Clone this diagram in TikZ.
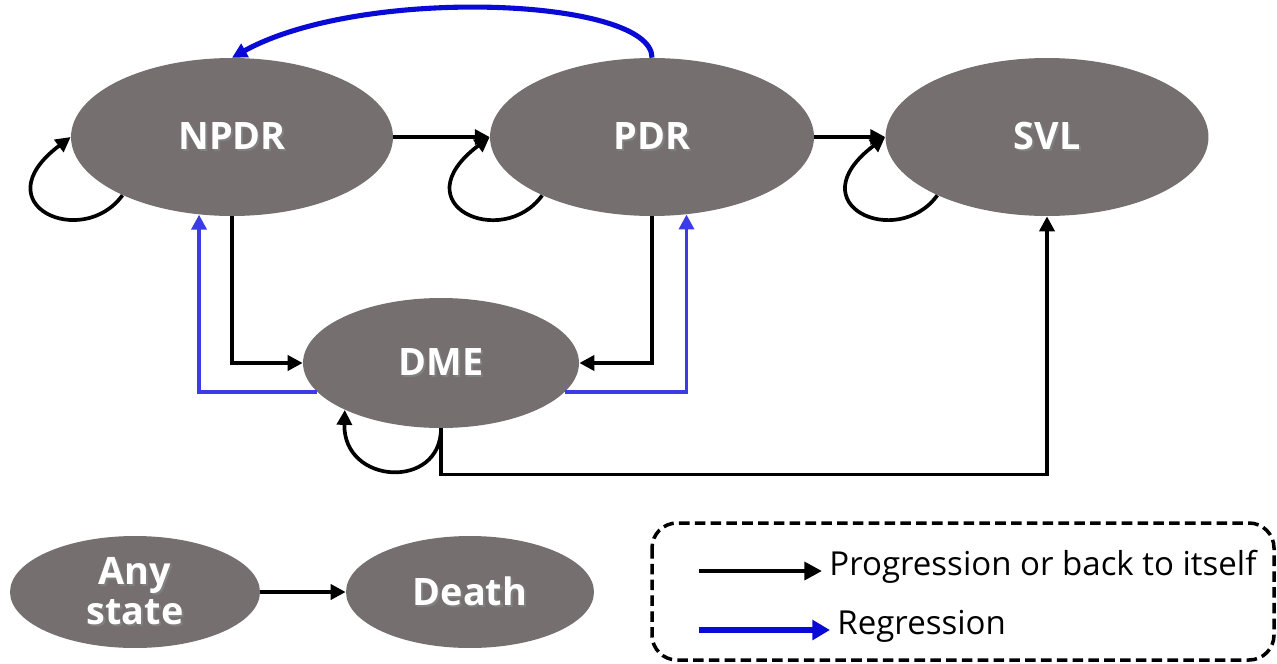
\documentclass[tikz,border=0pt]{standalone}
\usepackage{fontspec}
\setmainfont{Open Sans}
\usetikzlibrary{shapes.geometric,arrows.meta}
\definecolor{stategray}{RGB}{117,111,111}
\definecolor{arcblue}{RGB}{10,10,215}
\definecolor{regblue}{RGB}{60,60,230}
\newcommand{\shtxt}[1]{\leavevmode\rlap{\kern1.2pt\raisebox{-1.2pt}{\color{black!50}#1}}#1}
\tikzset{state/.style={ellipse, fill=stategray, inner sep=0pt, text=white, align=center, font=\fontsize{21.5}{23}\selectfont\bfseries},
  arr/.style={-{Triangle[length=8.5pt,width=8.5pt]}, line width=2.1pt, black},
  reg/.style={arr, regblue},
  legtext/.style={anchor=west, inner sep=4pt, font=\fontsize{18.8}{20}\selectfont}}

\begin{document}
\begin{tikzpicture}[x=0.02cm,y=0.02cm]
  \useasboundingbox (0,0) rectangle (1277,-663);
  \node[state, minimum width=6.44cm, minimum height=3.16cm] (npdr) at (232,-137) {\shtxt{NPDR}};
  \node[state, minimum width=6.48cm, minimum height=3.16cm] (pdr) at (652,-137) {\shtxt{PDR}};
  \node[state, minimum width=6.46cm, minimum height=3.16cm] (svl) at (1047,-137) {\shtxt{SVL}};
  \node[state, minimum width=5.52cm, minimum height=2.6cm] (dme) at (441,-363) {\shtxt{DME}};
  \node[state, minimum width=5.0cm, minimum height=2.24cm] (anyst) at (135,-592) {\shtxt{Any}\\\shtxt{state}};
  \node[state, minimum width=4.96cm, minimum height=2.24cm] (death) at (470,-592) {\shtxt{Death}};

  \draw[arr] (npdr) -- (pdr);
  \draw[arr] (pdr) -- (svl);
  \foreach \s in {npdr,pdr,svl}
    \draw[arr] (\s.208) .. controls +(-40,-55) and +(-90,-68) .. (\s.west);
  \draw[arr] (dme.south) .. controls +(0,-62) and +(-2,-75) .. (dme.206);
  \draw[arr] (npdr.south) |- (dme.west);
  \draw[arr] (pdr.south) |- (dme.east);
  \draw[reg] (dme.193) -| (npdr.247.5);
  \draw[reg] (dme.347) -| (pdr.294);
  \draw[arr] (dme.south) -- ++(0,-46) -| (svl.south);
  \draw[arr, arcblue, line width=2.9pt] (pdr.north) .. controls +(0,60) and +(130,72) .. (npdr.north);
  \draw[arr] (anyst) -- (death);

  \draw[line width=2pt, dash pattern=on 6pt off 3pt, rounded corners=0.5cm] (652,-523) rectangle (1274,-660);
  \node[legtext] (ltprog) at (822,-567) {Progression or back to itself};
  \node[legtext] (ltreg) at (830,-626) {Regression};
  \coordinate (lgprog) at (699,-571);
  \coordinate (lgreg) at (699,-630);
  \draw[arr, line width=2.8pt, -{Triangle[length=10pt,width=10pt]}] (lgprog) -- (lgprog -| ltprog.west);
  \draw[arr, arcblue, line width=3.3pt, -{Triangle[length=10pt,width=11pt]}] (lgreg) -- (lgreg -| ltreg.west);
\end{tikzpicture}
\end{document}
